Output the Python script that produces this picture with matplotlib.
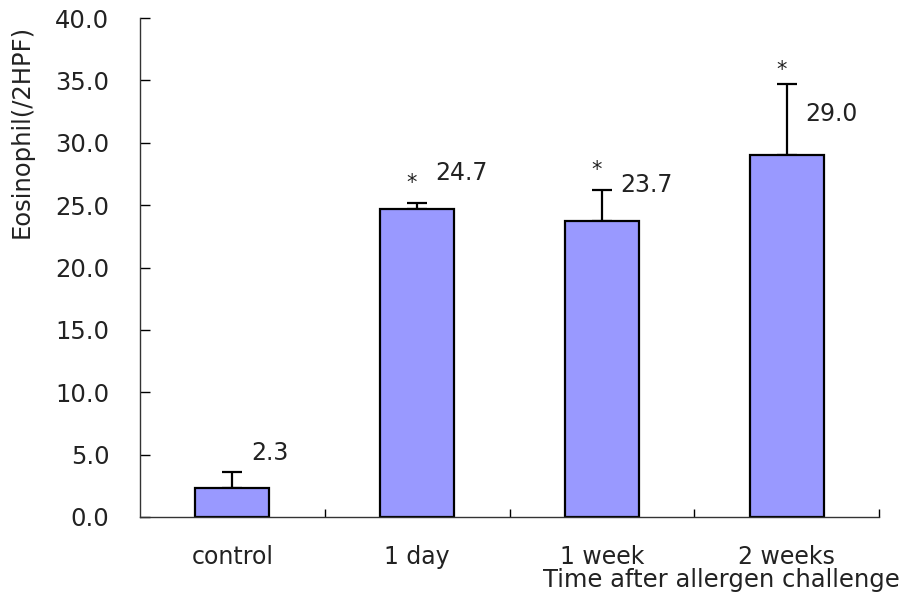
import matplotlib.pyplot as plt
import numpy as np

# Chart data.
categories = ["control", "1 day", "1 week", "2 weeks"]
values = [2.3, 24.7, 23.7, 29.0]
errors = [1.3, 0.5, 2.5, 5.7]
significant = [False, True, True, True]
value_labels = ["2.3", "24.7", "23.7", "29.0"]

# Vertical offsets (data units) of the value labels above the bar tops.
label_offsets = [2.8, 2.9, 2.9, 3.3]
# Offsets (points) of the asterisks above the error bar caps.
star_offsets = [0, 7, 7, 3]

plt.rcParams["font.family"] = ["DejaVu Sans"]


def main():
    fig = plt.figure(figsize=(9.05, 5.97), dpi=100)
    ax = fig.add_axes([140 / 905, 80 / 597, 739 / 905, 499 / 597])

    x = np.arange(len(categories))
    ax.bar(x, values, width=0.4, color="#9999ff", edgecolor="black",
           linewidth=1.6, zorder=2)
    ax.errorbar(x, values, yerr=[np.zeros(len(errors)), errors], fmt="none",
                ecolor="black", elinewidth=1.6, capsize=7, capthick=1.6,
                zorder=1)

    # Value labels and significance markers.
    for i in range(len(categories)):
        ax.text(i + 0.1, values[i] + label_offsets[i], value_labels[i],
                ha="left", va="center", fontsize=17, color="#222222")
        if significant[i]:
            ax.annotate("*", (i - 0.03, values[i] + errors[i]),
                        xytext=(0, star_offsets[i]), textcoords="offset points",
                        ha="center", va="bottom", fontsize=15,
                        color="#222222")

    ax.set_xlim(-0.5, len(categories) - 0.5)
    ax.set_ylim(0, 40)
    ax.set_yticks(np.arange(0, 40.1, 5))
    ax.set_yticklabels([f"{v:.1f}" for v in np.arange(0, 40.1, 5)])

    # Boundary ticks on the x axis, labels at the bar centres.
    ax.set_xticks(np.arange(0.5, len(categories), 1))
    ax.set_xticklabels([])
    ax.set_xticks(x, minor=True)
    ax.set_xticklabels(categories, minor=True)
    ax.tick_params(axis="x", which="major", direction="in", length=6, width=1)
    ax.tick_params(axis="x", which="minor", length=0, pad=20, labelsize=17,
                   labelcolor="#222222")
    ax.tick_params(axis="y", direction="in", length=7, width=1, pad=22,
                   labelsize=17.5, labelcolor="#222222")

    for side in ["top", "right"]:
        ax.spines[side].set_visible(False)
    for side in ["left", "bottom"]:
        ax.spines[side].set_linewidth(1)
        ax.spines[side].set_color("#333333")

    fig.text(22 / 905, 1 - 131 / 597, "Eosinophil(/2HPF)", rotation=90,
             ha="center", va="center", fontsize=17.5, color="#222222")
    fig.text(900 / 905, 1 - 580 / 597, "Time after allergen challenge",
             ha="right", va="center", fontsize=17.5, color="#222222")

    fig.savefig("out.png", dpi=100)


if __name__ == "__main__":
    main()
